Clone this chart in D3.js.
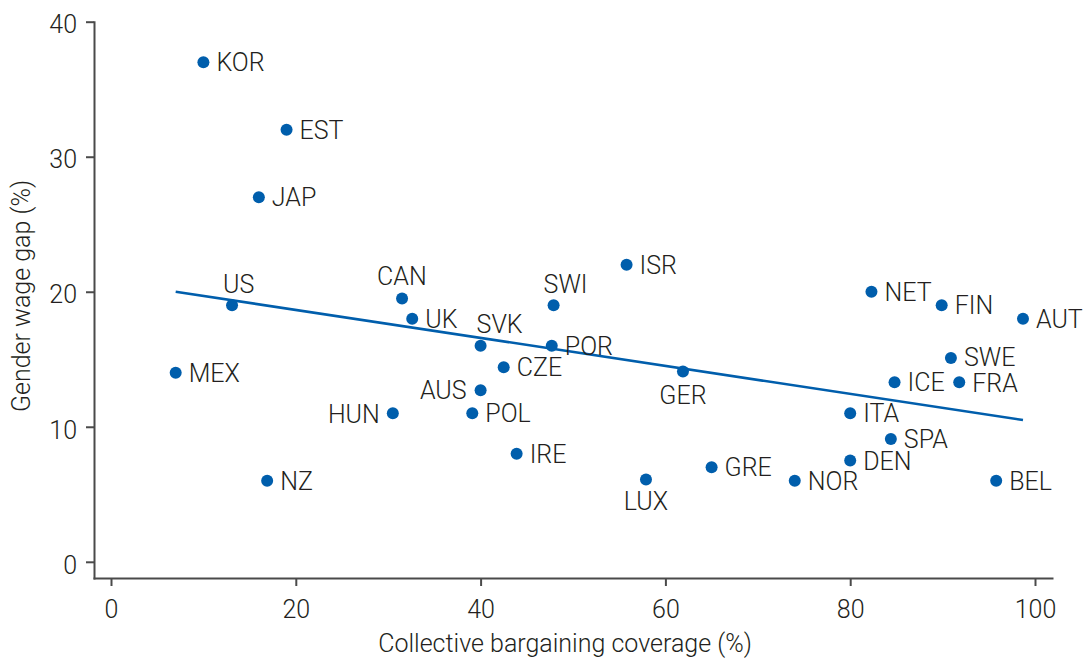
<!DOCTYPE html>
<html>
<head>
<meta charset="utf-8">
<script src="https://cdn.jsdelivr.net/npm/d3@7"></script>
<style>
	body { margin: 0; background: #fff; }
	svg { display: block; font-family: Roboto, "Liberation Sans", sans-serif; }
	.axis path, .axis line { stroke: #4a4a4a; stroke-width: 2; }
	.axis text { fill: #231f20; font-size: 25px; font-family: Roboto, sans-serif; font-weight: 300; }
	.lbl { fill: #231f20; font-size: 25px; font-weight: 300; }
</style>
</head>
<body>
<div id="chart"></div>
<script>
(function(){
	'use strict'
	var countries = ["KOR","EST","JAP","US","CAN","UK","SVK","SWI","POR","CZE","AUS","POL","HUN","MEX","NZ","IRE",
					 "ISR","GER","LUX","GRE","NOR","NET","FIN","AUT","SWE","ICE","FRA","ITA","SPA","DEN","BEL"];
	var coverage = [10, 19, 16, 13.1, 31.5, 32.6, 40, 47.9, 47.7, 42.5, 40, 39.1, 30.5, 7, 16.9, 43.9,
					55.8, 61.9, 57.9, 65, 74, 82.3, 89.9, 98.7, 90.9, 84.8, 91.8, 80, 84.4, 80, 95.8];
	var wageGap = [37, 32, 27, 19, 19.5, 18, 16, 19, 16, 14.4, 12.7, 11, 11, 14, 6, 8,
				   22, 14.1, 6.1, 7, 6, 20, 19, 18, 15.1, 13.3, 13.3, 11, 9.1, 7.5, 6];
	// fitted trend line end points
	var trendX = [7, 98.7];
	var trendY = [20, 10.5];
	var xTicks = [0, 20, 40, 60, 80, 100];
	var yTicks = [0, 10, 20, 30, 40];

	var W = 1087, H = 660;
	var svg = d3.select("#chart").append("svg")
				.attr("width", W)
				.attr("height", H);

	var x = d3.scaleLinear().domain([-1.84, 101.84]).range([94, 1052]),
		y = d3.scaleLinear().domain([-1.2, 40]).range([578, 21.7]);

	svg.append("g")
		.attr("class", "x axis")
		.attr("transform", "translate(0,578)")
		.call(d3.axisBottom(x).tickValues(xTicks).tickSize(8).tickSizeOuter(0).tickPadding(14));

	svg.append("g")
		.attr("class", "y axis")
		.attr("transform", "translate(94,0)")
		.call(d3.axisLeft(y).tickValues(yTicks).tickSize(8).tickSizeOuter(0).tickPadding(9))
		.selectAll("text").attr("dy", "0.45em");

	svg.selectAll(".axis .domain").attr("stroke-linecap", "square");

	svg.append("text")
		.attr("class", "lbl")
		.attr("x", 565)
		.attr("y", 652)
		.attr("text-anchor", "middle")
		.text("Collective bargaining coverage (%)");

	svg.append("text")
		.attr("class", "lbl")
		.attr("transform", "translate(30,296) rotate(-90)")
		.attr("text-anchor", "middle")
		.text("Gender wage gap (%)");

	var data = countries.map(function(c, i){
		return {name: c, cov: coverage[i], gap: wageGap[i]};
	});

	svg.append("line")
		.attr("x1", x(trendX[0])).attr("y1", y(trendY[0]))
		.attr("x2", x(trendX[1])).attr("y2", y(trendY[1]))
		.attr("stroke", "#005eac")
		.attr("stroke-width", 2.6);

	svg.selectAll(".dot")
		.data(data)
		.enter().append("circle")
		.attr("class", "dot")
		.attr("cx", function(d){ return x(d.cov); })
		.attr("cy", function(d){ return y(d.gap); })
		.attr("r", 6)
		.attr("fill", "#005eac");

	// label placement: [dx, dy, anchor]; default is to the right of the dot
	var place = {
		US: [-9, -12, "start"], CAN: [-25, -13, "start"], SWI: [-10, -12, "start"], SVK: [-4, -13, "start"],
		GER: [0, 33, "middle"], LUX: [0, 31, "middle"],
		HUN: [-13, 10, "end"], AUS: [-14, 9, "end"], SWE: [13, 8, "start"], FRA: [13, 10, "start"]
	};

	svg.selectAll(".clbl")
		.data(data)
		.enter().append("text")
		.attr("class", "lbl clbl")
		.attr("x", function(d){ return x(d.cov) + (place[d.name] ? place[d.name][0] : 13); })
		.attr("y", function(d){ return y(d.gap) + (place[d.name] ? place[d.name][1] : 9); })
		.attr("text-anchor", function(d){ return place[d.name] ? place[d.name][2] : "start"; })
		.text(function(d){ return d.name; });
})();
</script>
</body>
</html>
